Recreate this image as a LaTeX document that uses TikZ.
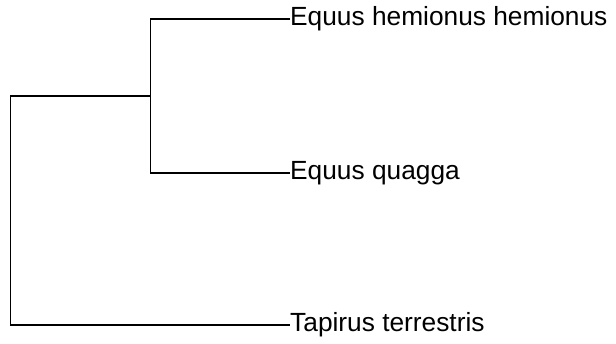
\documentclass[tikz,border=0pt]{standalone}
\usepackage{fontspec}
\setmainfont{Liberation Sans}
\begin{document}
\begin{tikzpicture}[x=1pt,y=-1pt,
  branch/.style={line width=1.6pt,line join=miter,black},
  leaf/.style={anchor=base west,inner sep=0pt,font=\fontsize{26.3}{30}\selectfont,yshift=-6.3pt}]
\useasboundingbox (0,0) rectangle (616,343);
\coordinate (r) at (10.5,96);
\coordinate (i) at (150.5,96);
\coordinate (lA) at (290,19);
\coordinate (lB) at (290,173);
\coordinate (lC) at (290,325);
\node[leaf] (A) at (lA) {Equus hemionus hemionus};
\node[leaf] (B) at (lB) {Equus quagga};
\node[leaf] (C) at (lC) {Tapirus terrestris};
\draw[branch] (lA) -| (i) |- (lB);
\draw[branch] (i) -| (r) |- (lC);
\end{tikzpicture}
\end{document}
